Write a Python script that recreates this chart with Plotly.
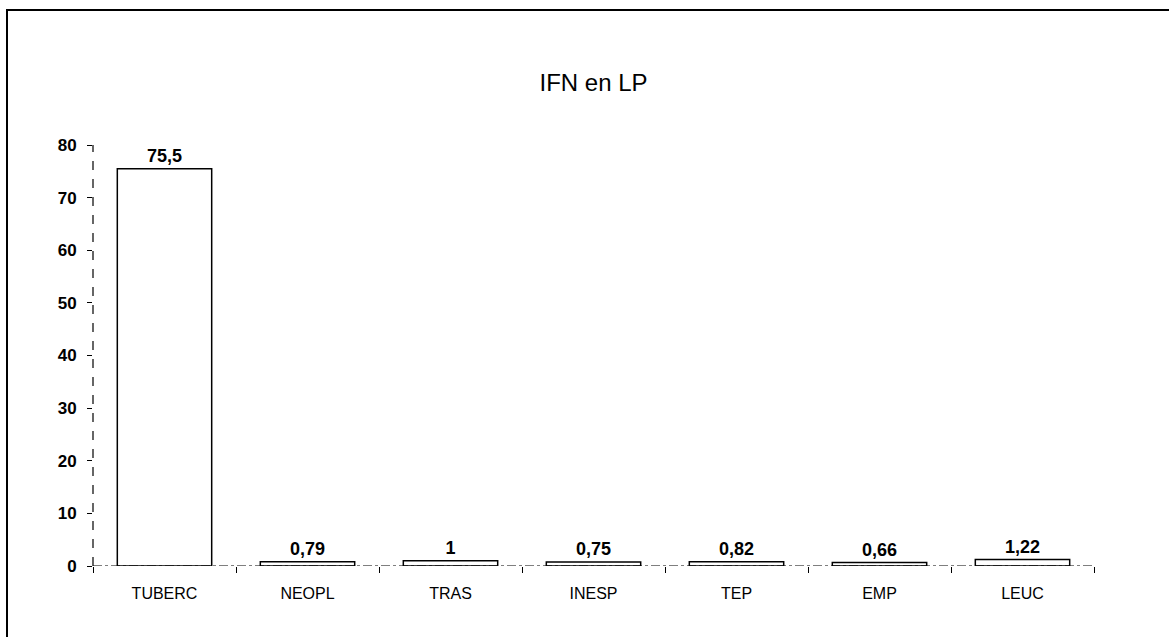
import plotly.graph_objects as go

title_text = "IFN en LP"
categories = ["TUBERC", "NEOPL", "TRAS", "INESP", "TEP", "EMP", "LEUC"]
values = [75.5, 0.79, 1, 0.75, 0.82, 0.66, 1.22]
y_ticks = [0, 10, 20, 30, 40, 50, 60, 70, 80]

labels = [str(v).replace(".", ",") for v in values]

W, H = 1169, 637
ml, mr, mt, mb = 93, 75, 145, 71
pw = W - ml - mr
ph = H - mt - mb

fig = go.Figure()
fig.add_trace(go.Bar(
    x=categories, y=values,
    text=labels, textposition="outside",
    textfont=dict(family="Arial, Liberation Sans", size=18, color="black", weight="bold"),
    marker=dict(color="white", line=dict(color="black", width=1.5)),
    cliponaxis=False,
    width=0.66,
))

font_fam = "Arial, Liberation Sans, sans-serif"
fig.update_layout(
    width=W, height=H,
    margin=dict(l=ml, r=mr, t=mt, b=mb, autoexpand=False),
    paper_bgcolor="white", plot_bgcolor="white",
    showlegend=False,
    title=dict(text=title_text, x=0.5, xref="paper", xanchor="center",
               y=1 - 83 / H, yref="container", yanchor="middle",
               font=dict(family=font_fam, size=24, color="black")),
    xaxis=dict(type="category", showgrid=False, zeroline=False, showline=False,
               ticks="outside", tickson="boundaries", ticklen=6, tickcolor="black",
               ticklabelstandoff=16,
               tickfont=dict(family=font_fam, size=16, color="black")),
    yaxis=dict(range=[0, 80], tickvals=y_ticks, showgrid=False, zeroline=False,
               showline=False, ticks="outside", ticklen=5, tickcolor="black",
               ticklabelstandoff=7,
               tickfont=dict(family=font_fam, size=17, color="black", weight="bold")),
)

# dashed axis lines
fig.add_shape(type="line", xref="paper", yref="y", x0=0, x1=1, y0=0, y1=0,
              line=dict(color="black", width=1.2, dash="dashdot"))
fig.add_shape(type="line", xref="paper", yref="paper", x0=0, x1=0, y0=0, y1=1,
              line=dict(color="black", width=1.2, dash="dash"))

# outer border of the scanned chart
bx0 = (7 - ml) / pw
by1 = (H - mb - 10) / ph
fig.add_shape(type="rect", xref="paper", yref="paper",
              x0=bx0, x1=1.3, y0=-0.5, y1=by1,
              line=dict(color="black", width=2), fillcolor="rgba(0,0,0,0)")

fig.write_html("out.html", config={"displayModeBar": False},
               post_script="document.body.style.margin='0';document.body.style.overflow='hidden';")
